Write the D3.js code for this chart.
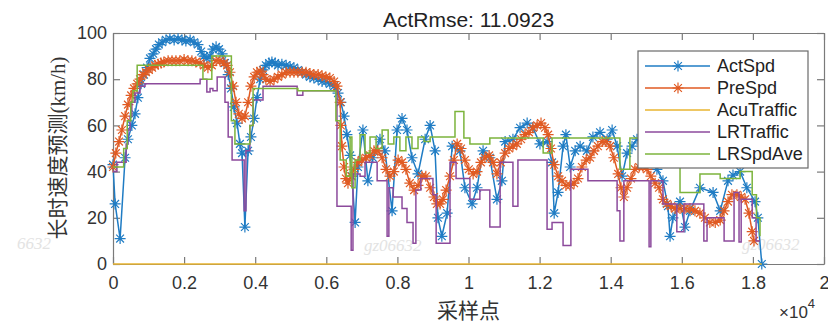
<!DOCTYPE html>
<html>
<head>
<meta charset="utf-8">
<script src="https://cdn.jsdelivr.net/npm/d3@7"></script>
<style>
  body { margin: 0; background: #fff; }
  svg { display: block; }
  .tick text { font-family: "Liberation Sans", Arial, sans-serif; font-size: 18px; fill: #333; }
</style>
</head>
<body>
<div id="chart"></div>
<script>
// sample index (x) and speed (km/h) for each series
const actX = [0, 60, 200, 340, 420, 530, 620, 700, 790, 870, 960, 1040, 1130, 1210, 1290, 1380, 1490, 1600, 1720, 1830,
  1940, 2050, 2170, 2280, 2390, 2480, 2560, 2640, 2730, 2810, 2900, 2980, 3070, 3150, 3240, 3320, 3400, 3490, 3570, 3630,
  3710, 3800, 3880, 3970, 4050, 4140, 4220, 4300, 4390, 4470, 4560, 4640, 4750, 4870, 4980, 5090, 5200, 5320, 5430, 5540,
  5650, 5770, 5880, 5990, 6100, 6220, 6330, 6410, 6500, 6580, 6670, 6720, 6810, 6890, 7030, 7170, 7310, 7510, 7650, 7850,
  7990, 8130, 8270, 8410, 8580, 8780, 8920, 9060, 9140, 9250, 9400, 9540, 9760, 9900, 10100, 10240, 10410, 10600, 10800, 10940,
  11030, 11250, 11450, 11650, 11810, 12010, 12210, 12350, 12410, 12520, 12660, 12740, 12860, 13000, 13140, 13330, 13500, 13700, 13900, 14040,
  14180, 14320, 14460, 14600, 14740, 14910, 15110, 15300, 15470, 15610, 15670, 15750, 15950, 16090, 16230, 16510, 16880, 17080, 17300, 17440,
  17640, 17830, 18060, 18140, 18250];
const actSpd = [43, 26, 11, 46, 54, 60, 65, 72, 78, 82, 85, 89, 91, 93, 95, 96, 97, 97.5, 97, 97.5,
  97, 96.5, 97, 96, 95, 92, 90, 89, 90, 93, 94, 93, 91, 87, 82, 76, 68, 61, 52, 48,
  16, 49, 55, 63, 72, 80, 84, 86, 87, 87.5, 87, 86, 86.5, 86, 85.5, 85, 84, 83, 82, 81,
  80.5, 80, 79, 79, 78, 77, 74, 70, 64, 56, 47, 38, 18, 42, 58, 36, 46, 54, 49, 23,
  58, 63, 58, 46, 39, 54, 60, 49, 20, 12, 22, 51, 49, 33, 26, 33, 49, 46, 28, 36,
  53, 54, 59, 61, 59, 52, 53, 44, 22, 31, 51, 56, 42, 49, 51, 49, 55, 57, 54, 58,
  51, 38, 48, 51, 54, 51, 46, 41, 36, 25, 12, 20, 27, 16, 23, 33, 31, 23, 36, 38.5,
  40, 33, 27, 20, 0];

const preX = [0, 80, 170, 250, 340, 420, 510, 590, 680, 760, 840, 930, 1010, 1100, 1180, 1270, 1350, 1430, 1550, 1660,
  1770, 1880, 2000, 2110, 2220, 2330, 2450, 2560, 2670, 2780, 2900, 3010, 3120, 3210, 3290, 3380, 3460, 3540, 3630, 3710,
  3800, 3880, 3970, 4050, 4140, 4220, 4300, 4420, 4530, 4640, 4750, 4870, 4980, 5090, 5200, 5320, 5430, 5540, 5650, 5770,
  5880, 5990, 6100, 6220, 6300, 6390, 6410, 6440, 6500, 6550, 6610, 6700, 6780, 6890, 7000, 7120, 7230, 7340, 7450, 7570,
  7680, 7790, 7900, 8020, 8130, 8240, 8350, 8470, 8580, 8690, 8800, 8920, 9030, 9110, 9200, 9280, 9370, 9480, 9590, 9680,
  9790, 9900, 10010, 10130, 10240, 10350, 10460, 10580, 10690, 10800, 10910, 11030, 11140, 11250, 11360, 11480, 11590, 11700, 11810, 11930,
  12040, 12150, 12240, 12320, 12410, 12520, 12630, 12740, 12860, 12970, 13080, 13190, 13310, 13420, 13530, 13640, 13760, 13870, 13980, 14090,
  14210, 14290, 14370, 14460, 14570, 14680, 14800, 14910, 15020, 15130, 15250, 15360, 15470, 15580, 15700, 15810, 15950, 16090, 16230, 16370,
  16510, 16650, 16790, 16940, 17080, 17190, 17300, 17410, 17550, 17670, 17780, 17890, 17980, 18030];
const preSpd = [42, 48, 53, 58, 64, 69, 73, 76, 78, 80, 82, 83, 84, 85, 86, 86.5, 87, 87.5, 88, 88,
  88, 88, 88.5, 88, 88, 87.5, 87, 86, 85, 86, 88, 88, 87, 86, 83, 77, 70, 65, 63, 64,
  70, 77, 81, 83, 83.5, 82, 80, 79, 80, 81, 82, 83, 83, 83, 83, 83, 83, 82.5, 82, 82,
  81.5, 81, 80.5, 79, 77, 70, 60, 51, 42, 37, 35, 38, 41, 44, 45, 46, 47, 49, 49, 46,
  41, 38, 40, 45, 44, 41, 35, 32, 34, 38, 38, 33, 29, 26, 26, 28, 32, 38, 45, 52,
  50, 45, 41, 39, 40, 44, 46, 47, 44, 39, 44, 48, 50, 51, 52, 54, 56, 57, 59, 60,
  61, 59, 56, 50, 43, 38, 36, 34, 34, 35, 37, 42, 45, 46, 49, 51, 53, 53, 51, 46,
  39, 33, 29, 33, 37, 41, 42, 42, 41, 38, 35, 33, 28, 26, 25, 24, 24, 24, 24, 23,
  22, 20, 18, 18, 19, 23, 27, 30, 30, 29, 28, 22, 14, 10];

const acuX = [0, 18250];
const acuTraffic = [0, 0];

const lrX = [0, 110, 370, 420, 480, 530, 620, 760, 900, 2450, 2640, 2730, 2810, 2930, 3150, 3240, 3350, 3690, 3740, 3850,
  3940, 4220, 5180, 5340, 6300, 6700, 6750, 6950, 7090, 7430, 7710, 7760, 7880, 8130, 8270, 8440, 8520, 8660, 9000, 9090,
  9480, 9650, 10040, 10320, 10600, 10890, 11250, 11390, 12210, 12350, 12660, 12880, 13360, 14180, 14260, 14370, 15080, 15130, 15470, 15860,
  16060, 16620, 16710, 17190, 17470, 17610, 17670, 17980, 18090, 18200];
const lrTraffic = [40, 44, 52, 58, 64, 70, 74, 77, 78, 80, 74.5, 76, 75, 81, 70, 55, 45, 23, 49, 60,
  71, 77, 73, 75, 25, 6, 39, 38, 44, 36, 12, 33, 29, 24, 18, 9, 32, 37, 30, 9,
  44, 37, 28, 32, 16, 44, 25, 45, 15, 18, 8, 41, 36, 23, 10, 36, 7.5, 36, 26, 14,
  26, 10, 20, 10, 31, 9.5, 28, 20, 10, 10];

const aveX = [0, 300, 400, 500, 560, 680, 2530, 2780, 3330, 3430, 3850, 3940, 5200, 6270, 6390, 6560, 6670, 6720, 6810, 6950,
  7090, 7230, 7400, 7570, 7740, 7900, 8070, 8240, 8410, 8580, 8750, 8920, 9620, 9870, 10040, 10600, 12100, 12350, 14260, 14540,
  15650, 15950, 16510, 17080, 17640, 17980, 18100, 18200];
const lrSpdAve = [42, 50, 62, 70, 75, 86, 80, 90, 62, 52, 60, 76, 75, 62, 45, 38, 55, 33, 45, 56,
  48, 55, 50, 58, 52, 55, 49, 55, 50, 55, 53, 55, 66, 54.5, 52, 54.5, 48, 54.5, 41, 54.5,
  46, 31, 39, 37, 40, 30, 20, 12];

const xTickVals = [0, 2000, 4000, 6000, 8000, 10000, 12000, 14000, 16000, 18000, 20000];
const xTickLabels = ['0', '0.2', '0.4', '0.6', '0.8', '1', '1.2', '1.4', '1.6', '1.8', '2'];
const yTickVals = [0, 20, 40, 60, 80, 100];
const seriesNames = ['ActSpd', 'PreSpd', 'AcuTraffic', 'LRTraffic', 'LRSpdAve'];
const seriesColors = ['#1f7cc4', '#e05a22', '#e8b530', '#8c4a9c', '#7cb43c'];

const W = 828, H = 323;
const margin = { top: 33, right: 4, bottom: 59, left: 113 };

const svg = d3.select('#chart').append('svg')
  .attr('width', W)
  .attr('height', H);

const x = d3.scaleLinear().domain([0, 20000]).range([margin.left, W - margin.right]);
const y = d3.scaleLinear().domain([0, 100]).range([H - margin.bottom, margin.top]);

// watermarks
const wm = [['6632', 17, 249], ['gz06632', 364, 251], ['gz06632', 742, 250]];
svg.selectAll('text.wm').data(wm).enter().append('text')
  .attr('class', 'wm')
  .attr('x', d => d[1]).attr('y', d => d[2])
  .attr('font-family', '"Liberation Serif", serif')
  .attr('font-style', 'italic')
  .attr('font-size', '17px')
  .attr('fill', '#e3e3e3')
  .text(d => d[0]);

// axes (ticks point inwards, box on)
const tickLen = 7;
svg.append('g')
  .attr('transform', `translate(0,${y(0)})`)
  .call(d3.axisBottom(x).tickValues(xTickVals).tickFormat((d, i) => xTickLabels[i])
    .tickSizeInner(-tickLen).tickSizeOuter(0).tickPadding(12));
svg.append('g')
  .attr('transform', `translate(0,${y(100)})`)
  .call(d3.axisTop(x).tickValues(xTickVals).tickFormat('').tickSizeInner(-tickLen).tickSizeOuter(0));
svg.append('g')
  .attr('transform', `translate(${x(0)},0)`)
  .call(d3.axisLeft(y).tickValues(yTickVals).tickSizeInner(-tickLen).tickSizeOuter(0).tickPadding(6));
svg.append('g')
  .attr('transform', `translate(${x(20000)},0)`)
  .call(d3.axisRight(y).tickValues(yTickVals).tickFormat('').tickSizeInner(-tickLen).tickSizeOuter(0));

svg.selectAll('.domain, .tick line').attr('stroke', '#7a7a7a').attr('stroke-width', 1.2);

// series
const plotG = svg.append('g');
const straight = d3.line().x(d => x(d[0])).y(d => y(d[1]));
const stepped = d3.line().x(d => x(d[0])).y(d => y(d[1])).curve(d3.curveStepAfter);

const actData = actX.map((v, i) => [v, actSpd[i]]);
const preData = preX.map((v, i) => [v, preSpd[i]]);
const acuData = acuX.map((v, i) => [v, acuTraffic[i]]);
const lrData = lrX.map((v, i) => [v, lrTraffic[i]]);
const aveData = aveX.map((v, i) => [v, lrSpdAve[i]]);

const star = 'M-5.5,0H5.5M0,-5.5V5.5M-3.9,-3.9L3.9,3.9M-3.9,3.9L3.9,-3.9';

function drawSeries(data, color, gen, marker) {
  plotG.append('path')
    .datum(data)
    .attr('fill', 'none')
    .attr('stroke', color)
    .attr('stroke-width', 1.5)
    .attr('d', gen);
  if (marker) {
    plotG.append('g').selectAll('path')
      .data(data)
      .enter().append('path')
      .attr('transform', d => `translate(${x(d[0])},${y(d[1])})`)
      .attr('d', star)
      .attr('stroke', color)
      .attr('stroke-width', 1.2)
      .attr('fill', 'none');
  }
}

drawSeries(actData, seriesColors[0], straight, true);
drawSeries(preData, seriesColors[1], straight, true);
drawSeries(acuData, seriesColors[2], straight, false);
drawSeries(lrData, seriesColors[3], stepped, false);
drawSeries(aveData, seriesColors[4], stepped, false);

// legend
const lg = svg.append('g').attr('transform', 'translate(638,51)');
lg.append('rect')
  .attr('width', 170).attr('height', 117)
  .attr('fill', '#fff').attr('stroke', '#6a6a6a').attr('stroke-width', 1.2);
const items = lg.selectAll('g.item').data(seriesNames).enter().append('g')
  .attr('class', 'item')
  .attr('transform', (d, i) => `translate(0,${15 + i * 22})`);
items.append('line')
  .attr('x1', 7).attr('x2', 72).attr('y1', 0).attr('y2', 0)
  .attr('stroke', (d, i) => seriesColors[i]).attr('stroke-width', 1.5);
items.filter((d, i) => i < 2).append('path')
  .attr('transform', 'translate(40,0)')
  .attr('d', star)
  .attr('stroke', (d, i) => seriesColors[i])
  .attr('stroke-width', 1.2).attr('fill', 'none');
items.append('text')
  .attr('x', 79).attr('y', 0).attr('dy', '0.35em')
  .attr('font-family', '"Liberation Sans", Arial, sans-serif')
  .attr('font-size', '18px').attr('fill', '#222')
  .text(d => d);

// title and labels
svg.append('text')
  .attr('x', (x(0) + x(20000)) / 2).attr('y', 27)
  .attr('text-anchor', 'middle')
  .attr('font-family', '"Liberation Sans", Arial, sans-serif')
  .attr('font-size', '21px').attr('fill', '#222')
  .text('ActRmse: 11.0923');

svg.append('text')
  .attr('transform', 'translate(58,148) rotate(-90)')
  .attr('text-anchor', 'middle')
  .attr('dominant-baseline', 'central')
  .attr('font-family', '"Liberation Serif", "Noto Sans CJK SC", serif')
  .attr('font-size', '21px').attr('fill', '#333')
  .text('长时速度预测(km/h)');

svg.append('text')
  .attr('x', (x(0) + x(20000)) / 2).attr('y', 309)
  .attr('text-anchor', 'middle')
  .attr('dominant-baseline', 'central')
  .attr('font-family', '"Noto Sans CJK SC", sans-serif')
  .attr('font-size', '21px').attr('fill', '#333')
  .text('采样点');

const expo = svg.append('text')
  .attr('x', 779).attr('y', 318)
  .attr('font-family', '"Liberation Sans", Arial, sans-serif')
  .attr('font-size', '17px').attr('fill', '#333');
expo.append('tspan').text('×10');
expo.append('tspan').attr('font-size', '13px').attr('dy', -10).text('4');
</script>
</body>
</html>
